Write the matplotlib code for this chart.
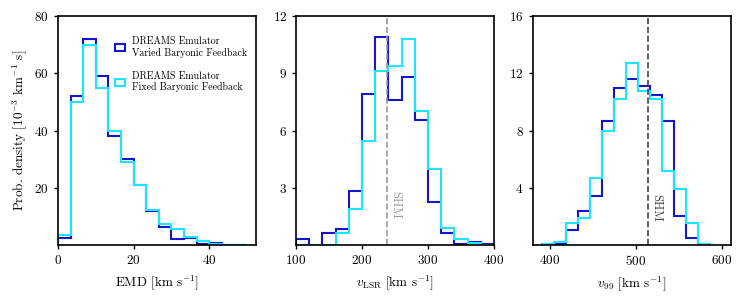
import numpy as np
import matplotlib
matplotlib.use("Agg")
import matplotlib.pyplot as plt
from matplotlib.patches import Patch

plt.rcParams["font.family"] = "serif"
plt.rcParams["font.serif"] = ["cmr10"]
plt.rcParams["mathtext.fontset"] = "cm"
plt.rcParams["axes.unicode_minus"] = False
plt.rcParams["axes.formatter.use_mathtext"] = True

dark = "#1616c8"
light = "#1ee4ff"

# EMD histogram
emd_edges = np.linspace(0, 50, 16)
emd_varied = [2.6, 52, 72, 59, 38, 30, 21, 12, 6.3, 2.2, 2.6, 0.3, 0.9, 0.2, 0.1]
emd_fixed = [3.5, 50, 70, 55, 40, 29, 21, 12.3, 7.4, 5.6, 2.8, 1.5, 0.3, 0.1, 0.05]

# v_LSR histogram
lsr_edges = np.arange(100, 401, 20)
lsr_varied = [0.3, 0.0, 0.66, 0.84, 2.83, 7.9, 10.88, 7.6, 8.79, 6.55, 2.27, 0.66, 0.05, 0.17, 0.07]
lsr_fixed = [0.0, 0.0, 0.0, 0.66, 1.89, 5.48, 9.12, 9.4, 10.8, 7.05, 4.0, 0.9, 0.3, 0.1, 0.0]

# v_99 histogram
v99_edges = np.linspace(390.3, 585.7, 15)
v99_varied = [0.05, 0.1, 1.05, 2.35, 3.42, 8.69, 10.97, 11.62, 11.1, 10.48, 8.69, 2.05, 0.49, 0.0]
v99_fixed = [0.1, 0.25, 1.58, 1.9, 4.7, 7.96, 10.2, 12.69, 10.74, 10.18, 5.17, 3.91, 1.58, 0.05]

v_shm = 238.5
v99_shm = 513.6

fig = plt.figure(figsize=(7.44, 3.03), dpi=100)
ax1 = fig.add_axes([0.078, 0.191, 0.266, 0.756])
ax2 = fig.add_axes([0.398, 0.191, 0.266, 0.756])
ax3 = fig.add_axes([0.716, 0.191, 0.266, 0.756])

lw = 1.5
ax1.stairs(emd_varied, emd_edges, color=dark, lw=lw)
ax1.stairs(emd_fixed, emd_edges, color=light, lw=lw)
ax1.set_xlim(0, 52.4)
ax1.set_ylim(0, 80)
ax1.set_xticks([0, 20, 40])
ax1.set_yticks([20, 40, 60, 80])
ax1.set_xlabel(r"EMD [km s$^{-1}$]")
ax1.set_ylabel(r"Prob. density [$10^{-3}$ km$^{-1}$ s]")
handles = [Patch(facecolor="none", edgecolor=dark, lw=lw),
           Patch(facecolor="none", edgecolor=light, lw=lw)]
ax1.legend(handles, ["DREAMS Emulator\nVaried Baryonic Feedback",
                     "DREAMS Emulator\nFixed Baryonic Feedback"],
           loc="upper right", bbox_to_anchor=(1.0, 0.95), frameon=False,
           fontsize=7.1, handlelength=1.0, handleheight=0.7,
           handletextpad=0.7, labelspacing=1.4)

ax2.stairs(lsr_varied, lsr_edges, color=dark, lw=lw)
ax2.stairs(lsr_fixed, lsr_edges, color=light, lw=lw)
ax2.axvline(v_shm, color="#999999", ls="--", lw=1.2)
ax2.text(v_shm + 3, 2.1, "SHM", rotation=270, color="#999999",
         fontsize=9, ha="left", va="center")
ax2.set_xlim(100, 400)
ax2.set_ylim(0, 12)
ax2.set_xticks([100, 200, 300, 400])
ax2.set_yticks([3, 6, 9, 12])
ax2.set_xlabel(r"$v_{\rm LSR}$ [km s$^{-1}$]")

ax3.stairs(v99_varied, v99_edges, color=dark, lw=lw)
ax3.stairs(v99_fixed, v99_edges, color=light, lw=lw)
ax3.axvline(v99_shm, color="#444444", ls="--", lw=1.2)
ax3.text(v99_shm + 3, 2.6, "SHM", rotation=270, color="#444444",
         fontsize=9, ha="left", va="center")
ax3.set_xlim(380, 610)
ax3.set_ylim(0, 16)
ax3.set_xticks([400, 500, 600])
ax3.set_yticks([4, 8, 12, 16])
ax3.set_xlabel(r"$v_{99}$ [km s$^{-1}$]")

for ax in (ax1, ax2, ax3):
    ax.tick_params(labelsize=9.5, length=3, width=1, direction="out")
    ax.xaxis.label.set_size(9.5)
    ax.yaxis.label.set_size(9.5)
    for s in ax.spines.values():
        s.set_linewidth(1.2)

fig.savefig("out.png", dpi=100)
